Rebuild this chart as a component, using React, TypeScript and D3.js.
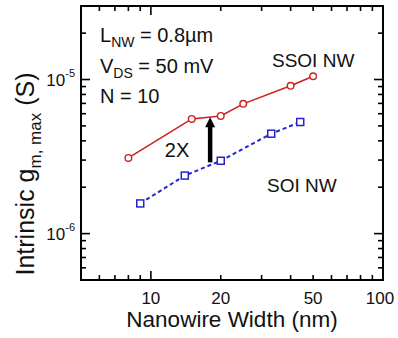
import React from 'react';
import * as d3 from 'd3';

// SSOI (strained) nanowires, red circles
const ssoiWidth = [8, 15, 20, 25, 40, 50];
const ssoiGm = [3.1e-6, 5.55e-6, 5.8e-6, 6.95e-6, 9.1e-6, 1.05e-5];
// SOI nanowires, blue squares
const soiWidth = [9, 14, 20, 33, 44];
const soiGm = [1.57e-6, 2.38e-6, 2.97e-6, 4.45e-6, 5.3e-6];

const xTickLabels = [10, 20, 50, 100];
const xMajor = [10, 100];
const xMinor = [6, 7, 8, 9, 20, 30, 40, 50, 60, 70, 80, 90];
const yMajor = [1e-6, 1e-5];
const yExponents = [-6, -5];
const yMinor = [6e-7, 7e-7, 8e-7, 9e-7, 2e-6, 3e-6, 4e-6, 5e-6, 6e-6, 7e-6, 8e-6, 9e-6, 2e-5];

const arrowWidth = 18;
const arrowGm = [2.9e-6, 5.7e-6];

const W = 398;
const H = 338;
const left = 81, right = 383, top = 6, bottom = 280;
const FONT = 'Liberation Sans, Arial, sans-serif';
const RED = '#cc2020';
const BLUE = '#2424cc';

const App = () => {
    const x = d3.scaleLog().domain([5, 100]).range([left, right]);
    const y = d3.scaleLog().domain([5e-7, 3e-5]).range([bottom, top]);
    const line = d3.line<[number, number]>().x(d => x(d[0])).y(d => y(d[1]));
    const ssoi = ssoiWidth.map((w, i) => [w, ssoiGm[i]] as [number, number]);
    const soi = soiWidth.map((w, i) => [w, soiGm[i]] as [number, number]);

    const ax = x(arrowWidth);
    const aFrom = y(arrowGm[0]);
    const aTo = y(arrowGm[1]);

    return (
        <svg width={W} height={H} style={{ position: 'absolute', left: 0, top: 0, background: '#fff' }} fontFamily={FONT}>
            {/* ticks */}
            <g stroke="#000" strokeWidth={1.6}>
                {xMajor.map(v => (
                    <g key={'xM' + v}>
                        <line x1={x(v)} x2={x(v)} y1={bottom} y2={bottom - 9} />
                        <line x1={x(v)} x2={x(v)} y1={top} y2={top + 9} />
                    </g>
                ))}
                {xMinor.map(v => (
                    <g key={'xm' + v}>
                        <line x1={x(v)} x2={x(v)} y1={bottom} y2={bottom - 5} />
                        <line x1={x(v)} x2={x(v)} y1={top} y2={top + 5} />
                    </g>
                ))}
                {yMajor.map(v => (
                    <g key={'yM' + v}>
                        <line x1={left} x2={left + 9} y1={y(v)} y2={y(v)} />
                        <line x1={right} x2={right - 9} y1={y(v)} y2={y(v)} />
                    </g>
                ))}
                {yMinor.map(v => (
                    <g key={'ym' + v}>
                        <line x1={left} x2={left + 5} y1={y(v)} y2={y(v)} />
                        <line x1={right} x2={right - 5} y1={y(v)} y2={y(v)} />
                    </g>
                ))}
            </g>
            <rect x={left} y={top} width={right - left} height={bottom - top} fill="none" stroke="#000" strokeWidth={2} />

            {/* tick labels */}
            <g fontSize={17} fill="#111" textAnchor="middle">
                {xTickLabels.map(v => (
                    <text key={'xl' + v} x={v === 100 ? x(v) - 3 : x(v)} y={bottom + 24}>{v}</text>
                ))}
            </g>
            <g fontSize={17} fill="#111" textAnchor="end">
                {yMajor.map((v, i) => (
                    <text key={'yl' + v} x={left - 6} y={y(v) + 6}>
                        10<tspan fontSize={11} dy={-9}>{yExponents[i]}</tspan>
                    </text>
                ))}
            </g>

            {/* series */}
            <path d={line(soi) ?? ''} fill="none" stroke={BLUE} strokeWidth={2} strokeDasharray="4,3" />
            {soi.map((d, i) => (
                <rect key={'s' + i} x={x(d[0]) - 3.5} y={y(d[1]) - 3.5} width={7} height={7} fill="#fff" stroke={BLUE} strokeWidth={1.5} />
            ))}
            <path d={line(ssoi) ?? ''} fill="none" stroke={RED} strokeWidth={1.6} />
            {ssoi.map((d, i) => (
                <circle key={'c' + i} cx={x(d[0])} cy={y(d[1])} r={3.3} fill="#fff" stroke={RED} strokeWidth={1.4} />
            ))}

            {/* 2X arrow */}
            <line x1={ax} x2={ax} y1={aFrom} y2={aTo + 9} stroke="#000" strokeWidth={4.5} />
            <path d={`M${ax - 5},${aTo + 10} L${ax},${aTo} L${ax + 5},${aTo + 10} Z`} fill="#000" />
            <text x={177} y={157} fontSize={20} textAnchor="middle" fill="#111">2X</text>

            {/* annotations */}
            <g fontSize={20} fill="#111">
                <text x={100} y={42}>L<tspan fontSize={14} dy={5}>NW</tspan><tspan dy={-5}> = 0.8µm</tspan></text>
                <text x={100} y={73}>V<tspan fontSize={14} dy={5}>DS</tspan><tspan dy={-5}> = 50 mV</tspan></text>
                <text x={100} y={103}>N = 10</text>
            </g>
            <g fontSize={19} fill="#111">
                <text x={272} y={67}>SSOI NW</text>
                <text x={267} y={192}>SOI NW</text>
            </g>

            {/* axis titles */}
            <text x={232} y={327} fontSize={22.5} textAnchor="middle" fill="#111">Nanowire Width (nm)</text>
            <text transform="translate(34,174) rotate(-90)" fontSize={25} textAnchor="middle" fill="#111">
                Intrinsic g<tspan fontSize={17} dy={7}>m, max</tspan><tspan dy={-7}> (S)</tspan>
            </text>
        </svg>
    );
};

export default App;
